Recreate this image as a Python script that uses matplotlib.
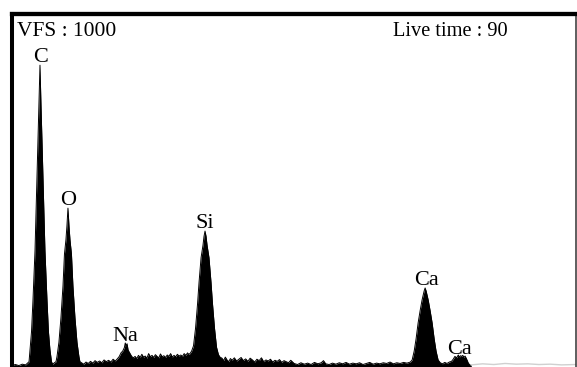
import matplotlib as mpl
import matplotlib.pyplot as plt

# espectro EDS: energia (eV) e contagens
energia = [30, 60, 90, 120, 150, 180, 189, 202, 215, 233, 250, 259, 268, 277, 286, 295, 304, 321, 339, 352, 365, 379,
           390, 405,
           419, 428, 445, 463, 481, 494, 507, 516, 525, 534, 543, 556, 569, 587, 605, 622, 631,
           645, 665, 685, 705, 725, 745, 765, 785, 805, 825, 845, 865, 885, 905, 925, 945, 965,
           980, 995, 1010, 1025, 1033, 1041, 1049, 1058, 1072, 1090,
           1105, 1120, 1135, 1150, 1165, 1180, 1195, 1210, 1225, 1240, 1255, 1270, 1285, 1300, 1315, 1330,
           1345, 1360, 1375, 1390, 1405, 1420, 1435, 1450, 1465, 1480, 1495, 1510, 1525, 1540, 1555, 1570,
           1585, 1595,
           1607, 1621, 1638, 1656, 1674, 1687, 1705, 1722, 1731, 1740, 1749, 1758, 1775, 1793, 1806, 1824,
           1842, 1859, 1873,
           1890, 1905, 1920, 1935, 1950, 1965, 1980, 2000, 2020, 2040, 2060, 2080, 2100, 2120, 2140, 2160,
           2180, 2200, 2220, 2240, 2260, 2280, 2300, 2320, 2340, 2360, 2380, 2400, 2420, 2440, 2460, 2480, 2500,
           2530, 2560, 2590, 2620, 2650, 2680, 2710, 2740, 2770, 2790, 2810, 2840, 2870, 2900, 2930, 2960,
           2990, 3020, 3050, 3080, 3110, 3140, 3170, 3200, 3230, 3260, 3290, 3320, 3350, 3380, 3410, 3440,
           3470, 3500, 3530, 3560,
           3576, 3594, 3611, 3629, 3647, 3664, 3682, 3691, 3700, 3718, 3735, 3753, 3771, 3788, 3806,
           3825, 3845, 3865, 3885, 3905, 3925,
           3940, 3955, 3970, 3985, 3995, 4005, 4015, 4025, 4035, 4045, 4055, 4065, 4075, 4100]
contagens = [5, 7, 4, 8, 6, 15, 50, 100, 190, 330, 530, 640, 740, 855, 740, 640, 530, 330, 190, 100, 50, 15,
             8, 12,
             15, 30, 70, 140, 230, 320, 360, 400, 450, 400, 360, 320, 230, 140, 70, 30, 15,
             12, 8, 14, 10, 16, 11, 18, 13, 17, 12, 20, 15, 19, 14, 22, 17, 24,
             30, 40, 45, 55, 68, 60, 66, 48, 40, 30,
             26, 30, 24, 33, 27, 36, 28, 31, 25, 38, 29, 33, 27, 35, 30, 26,
             37, 29, 32, 27, 34, 30, 38, 28, 33, 29, 36, 31, 34, 30, 38, 33,
             40, 36,
             38, 45, 60, 110, 180, 240, 310, 345, 370, 385, 370, 345, 310, 240, 180, 110,
             56, 35, 28,
             25, 18, 28, 20, 15, 24, 19, 26, 17, 22, 27, 18, 23, 16, 25, 20,
             14, 22, 18, 26, 15, 20, 17, 22, 14, 19, 16, 21, 13, 18, 15, 12, 19,
             10, 7, 12, 8, 11, 7, 13, 9, 12, 18, 9, 7, 11, 8, 12, 9,
             13, 8, 11, 9, 12, 7, 10, 13, 8, 11, 9, 12, 10, 14, 9, 12,
             10, 13, 11, 14,
             20, 45, 80, 125, 160, 190, 215, 224, 215, 190, 160, 125, 80, 45, 20,
             12, 9, 13, 10, 14, 16,
             22, 30, 26, 34, 28, 32, 30, 33, 27, 31, 25, 18, 10, 3]

# cauda clara depois do Ca
energia_cauda = [4100, 4200, 4300, 4400, 4500, 4600, 4700, 4800, 4900, 5024]
contagens_cauda = [6, 9, 7, 10, 8, 9, 7, 8, 6, 7]

# rotulos dos picos (elemento, energia, altura do texto)
elementos = ['C', 'O', 'Na', 'Si', 'Ca', 'Ca']
pos_elem = [280, 525, 1032, 1740, 3700, 3998]
alt_elem = [864, 458, 73, 395, 233, 38]

mpl.rcParams['font.family'] = 'Liberation Serif'

fig = plt.figure(figsize=(5.77, 3.67), dpi=100)
ax = fig.add_axes([12 / 577, 0, 563.5 / 577, 353 / 367])

ax.fill_between(energia, contagens, 0, color='black', lw=0)
ax.plot(energia, contagens, color='black', lw=0.7)
ax.plot(energia_cauda, contagens_cauda, color='#d0d0d0', lw=1)

for nome, xe, ye in zip(elementos, pos_elem, alt_elem):
    ax.text(xe, ye, nome, ha='center', va='baseline', fontsize=16)

ax.text(0.009, 0.938, 'VFS : 1000', transform=ax.transAxes, ha='left', va='baseline', fontsize=15.5)
ax.text(0.676, 0.938, 'Live time : 90', transform=ax.transAxes, ha='left', va='baseline', fontsize=14.7)

ax.set_xlim(29, 5024)
ax.set_ylim(0, 1000)
ax.set_xticks([])
ax.set_yticks([])
ax.spines['bottom'].set_visible(False)
ax.spines['top'].set_linewidth(3.1)
ax.spines['left'].set_linewidth(2.9)
ax.spines['right'].set_linewidth(1.1)
ax.spines['right'].set_color('#333333')

plt.savefig('out.png', dpi=100)
plt.close()
